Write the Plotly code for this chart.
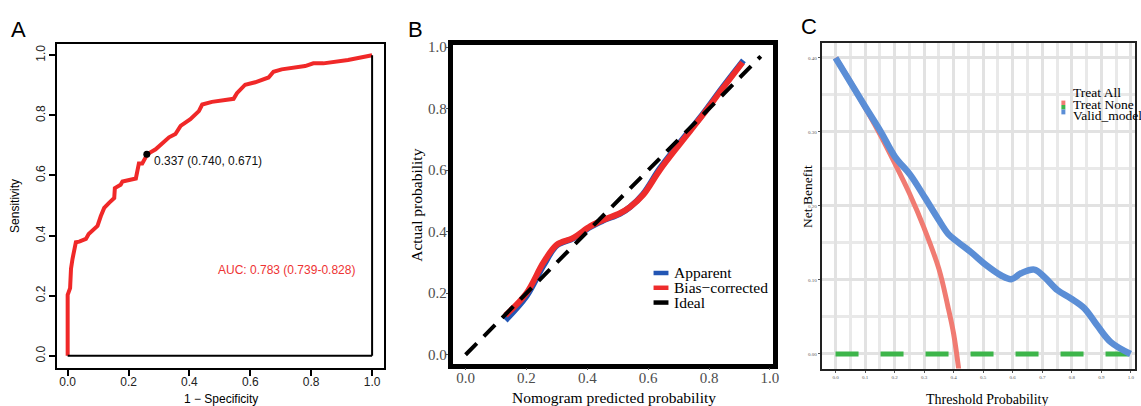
import plotly.graph_objects as go

W, H = 1141, 406

# ---------------- Panel A: ROC curve ----------------
roc_fpr = [0.0, 0.0, 0.008, 0.011, 0.016, 0.022, 0.027, 0.038, 0.06, 0.069, 0.087, 0.098,
           0.109, 0.12, 0.136, 0.153, 0.155, 0.174, 0.18, 0.224, 0.234, 0.245, 0.262, 0.289,
           0.333, 0.354, 0.371, 0.403, 0.431, 0.442, 0.474, 0.545, 0.556, 0.583, 0.616, 0.66,
           0.676, 0.703, 0.78, 0.807, 0.84, 0.921, 1.0]
roc_tpr = [0.0, 0.203, 0.225, 0.29, 0.323, 0.356, 0.378, 0.38, 0.389, 0.405, 0.421, 0.432,
           0.465, 0.492, 0.509, 0.525, 0.558, 0.569, 0.58, 0.59, 0.64, 0.64, 0.671, 0.687,
           0.727, 0.738, 0.765, 0.787, 0.814, 0.836, 0.845, 0.855, 0.874, 0.902, 0.91, 0.926,
           0.945, 0.953, 0.964, 0.973, 0.973, 0.984, 1.0]
best_threshold = 0.337
best_spec = 0.740
best_sens = 0.671
auc_label = "AUC: 0.783 (0.739-0.828)"

# ---------------- Panel B: calibration ----------------
cal_pred_bias = [0.131, 0.20, 0.256, 0.30, 0.354, 0.409, 0.452, 0.507, 0.54, 0.583, 0.638,
                 0.703, 0.78, 0.845, 0.91]
cal_obs_bias = [0.128, 0.20, 0.30, 0.358, 0.38, 0.417, 0.438, 0.46, 0.48, 0.519, 0.60,
                0.684, 0.78, 0.866, 0.95]
cal_pred_app = [0.131, 0.20, 0.256, 0.30, 0.354, 0.409, 0.452, 0.507, 0.54, 0.583, 0.638,
                0.703, 0.78, 0.845, 0.913]
cal_obs_app = [0.112, 0.19, 0.29, 0.355, 0.378, 0.415, 0.436, 0.458, 0.48, 0.522, 0.605,
               0.688, 0.783, 0.870, 0.957]
ideal_x = [0.0, 0.97]
ideal_y = [0.0, 0.97]

# ---------------- Panel C: decision curve ----------------
thr_all = [0.0, 0.05, 0.1, 0.15, 0.2, 0.25, 0.3, 0.35, 0.38, 0.4, 0.42]
nb_all = [0.400, 0.368, 0.333, 0.297, 0.258, 0.217, 0.170, 0.115, 0.065, 0.027, -0.03]
thr_model = [0.0, 0.099, 0.152, 0.202, 0.253, 0.303, 0.348, 0.382, 0.415, 0.46, 0.51, 0.561,
             0.595, 0.628, 0.673, 0.707, 0.752, 0.797, 0.842, 0.887, 0.932, 0.999]
nb_model = [0.400, 0.335, 0.301, 0.266, 0.242, 0.211, 0.182, 0.162, 0.151, 0.137, 0.120, 0.106,
            0.101, 0.109, 0.114, 0.104, 0.086, 0.075, 0.062, 0.038, 0.016, 0.0]
thr_none = [0.0, 1.0]
nb_none = [0.0, 0.0]
dca_legend = ["Treat All", "Treat None", "Valid_model"]
dca_colors = ["#F07B72", "#3DB54A", "#5B8ED6"]

SANS = "Liberation Sans"
SERIF = "Liberation Serif"


def px(x):
    return x / W


def py(y):
    return 1 - y / H


fig = go.Figure()

# Panel A traces
fig.add_trace(go.Scatter(x=roc_fpr, y=roc_tpr, mode="lines", xaxis="x", yaxis="y",
                         line=dict(color="#F02828", width=4), showlegend=False))
fig.add_trace(go.Scatter(x=[1 - best_spec], y=[best_sens], mode="markers", xaxis="x", yaxis="y",
                         marker=dict(color="black", size=7), showlegend=False))

# Panel B traces
fig.add_trace(go.Scatter(x=cal_pred_app, y=cal_obs_app, mode="lines", xaxis="x2", yaxis="y2",
                         line=dict(color="#2356B4", width=6, shape="spline"), showlegend=False))
fig.add_trace(go.Scatter(x=cal_pred_bias, y=cal_obs_bias, mode="lines", xaxis="x2", yaxis="y2",
                         line=dict(color="#EE2C2C", width=6, shape="spline"), showlegend=False))
fig.add_trace(go.Scatter(x=ideal_x, y=ideal_y, mode="lines", xaxis="x2", yaxis="y2",
                         line=dict(color="black", width=4, dash="16px,10px"), showlegend=False))

# Panel C traces
fig.add_trace(go.Scatter(x=thr_none, y=nb_none, mode="lines", xaxis="x3", yaxis="y3",
                         line=dict(color=dca_colors[1], width=5, dash="23px,22px"), showlegend=False))
fig.add_trace(go.Scatter(x=thr_all, y=nb_all, mode="lines", xaxis="x3", yaxis="y3",
                         line=dict(color=dca_colors[0], width=5, shape="spline"), showlegend=False))
fig.add_trace(go.Scatter(x=thr_model, y=nb_model, mode="lines", xaxis="x3", yaxis="y3",
                         line=dict(color=dca_colors[2], width=6.5, shape="spline"), showlegend=False))

ticks01 = [0, 0.2, 0.4, 0.6, 0.8, 1.0]

axA = dict(tickvals=ticks01, tickformat=".1f", ticks="outside",
           ticklen=6, tickwidth=1.5, tickcolor="black", showline=True, mirror=True,
           linecolor="black", linewidth=2, showgrid=False, zeroline=False,
           tickfont=dict(family=SANS, size=12, color="#222"))
axB = dict(tickvals=ticks01, tickformat=".1f", ticks="outside",
           ticklen=2, tickwidth=1.2, tickcolor="#555", showline=True, mirror=True,
           linecolor="black", linewidth=4.5, showgrid=False, zeroline=False,
           tickfont=dict(family=SERIF, size=15, color="#4d4d4d"))

fig.update_layout(
    width=W, height=H, margin=dict(l=0, r=0, t=0, b=0),
    paper_bgcolor="white", plot_bgcolor="white",
    xaxis=dict(domain=[px(57), px(386)], anchor="y", range=[-0.036, 1.039],
               ticklabelstandoff=-4, **axA),
    yaxis=dict(domain=[py(367), py(39)], anchor="x", range=[-0.039, 1.036],
               tickangle=-90, ticklabelstandoff=-1, **axA),
    xaxis2=dict(domain=[px(455), px(777)], anchor="y2", range=[-0.0425, 1.0098],
                ticklabelstandoff=-5, **axB),
    yaxis2=dict(domain=[py(363), py(40)], anchor="x2", range=[-0.0288, 1.0054],
                ticklabelstandoff=-4, **axB),
    xaxis3=dict(domain=[px(826), 1.0], anchor="y3", range=[-0.047, 1.014],
                tickvals=[0, 0.1, 0.2, 0.3, 0.4, 0.5, 0.6, 0.7, 0.8, 0.9, 1.0], tickformat=".1f",
                ticks="outside", ticklen=2, tickcolor="#555", showline=True, mirror=True,
                linecolor="#222", linewidth=2, showgrid=True, gridcolor="#e2e2e2", gridwidth=3,
                minor=dict(dtick=0.05, showgrid=True, gridcolor="#e9e9e9", gridwidth=2.5),
                zeroline=False, tickfont=dict(family=SERIF, size=5, color="#555")),
    yaxis3=dict(domain=[py(368), py(38)], anchor="x3", range=[-0.0197, 0.4195],
                tickvals=[0, 0.1, 0.2, 0.3, 0.4], tickformat=".2f",
                ticks="outside", ticklen=2, tickcolor="#555", showline=True, mirror=True,
                linecolor="#222", linewidth=2, showgrid=True, gridcolor="#e2e2e2", gridwidth=3,
                minor=dict(dtick=0.05, showgrid=True, gridcolor="#e9e9e9", gridwidth=2.5),
                zeroline=False, tickfont=dict(family=SERIF, size=5, color="#555")),
)

# inner L-shaped frame in panel A (ROC boundaries)
fig.add_shape(type="line", xref="x", yref="y", x0=0, y0=0, x1=1, y1=0,
              line=dict(color="black", width=2))
fig.add_shape(type="line", xref="x", yref="y", x0=1, y0=0, x1=1, y1=1,
              line=dict(color="black", width=2))

ann = []


def text(x, y, s, size, family, color="black", angle=0, xanchor="center"):
    ann.append(dict(x=px(x), y=py(y), xref="paper", yref="paper", text=s, showarrow=False,
                    font=dict(size=size, family=family, color=color), textangle=angle,
                    xanchor=xanchor, yanchor="middle"))


# panel letters
text(19, 24, "A", 22, SANS)
text(418, 24, "B", 22, SANS)
text(813, 21, "C", 22, SANS)

# Panel A titles and labels
text(15, 203, "Sensitivity", 12, SANS, angle=-90)
text(222, 399, "1 − Specificity", 12, SANS)
ann.append(dict(x=1 - best_spec, y=best_sens, xref="x", yref="y",
                text=f"{best_threshold:.3f} ({best_spec:.3f}, {best_sens:.3f})",
                showarrow=False, xanchor="left", yanchor="middle", xshift=5, yshift=-7,
                font=dict(size=12, family=SANS, color="#111")))
ann.append(dict(x=0.72, y=0.285, xref="x", yref="y", text=auc_label, showarrow=False,
                xanchor="center", yanchor="middle",
                font=dict(size=12, family=SANS, color="#EE3333")))

# Panel B titles and legend
text(418, 202, "Actual probability", 15.5, SERIF, angle=-90)
text(617, 397, "Nomogram predicted probability", 15.5, SERIF)
leg_b = [("Apparent", "#2356B4"), ("Bias−corrected", "#EE2C2C"), ("Ideal", "black")]
for i, (lab, col) in enumerate(leg_b):
    yy = 271 + i * 15
    fig.add_shape(type="line", xref="paper", yref="paper", x0=px(657), x1=px(672),
                  y0=py(yy), y1=py(yy), line=dict(color=col, width=4.5))
    text(676, yy, lab, 15.5, SERIF, xanchor="left")

# Panel C titles and legend
text(811, 193, "Net Benefit", 13.5, SERIF, angle=-90)
text(993, 399, "Threshold Probability", 14, SERIF)
for i, lab in enumerate(dca_legend):
    text(1077, 88 + i * 11.5, lab, 13.5, SERIF, xanchor="left")
key_y = [(96, 100.5), (100.5, 105), (105, 110)]
for (y0, y1), col in zip(key_y, dca_colors):
    fig.add_shape(type="rect", xref="paper", yref="paper", x0=px(1067), x1=px(1071),
                  y0=py(y1), y1=py(y0), line=dict(width=0), fillcolor=col)

fig.update_layout(annotations=ann)
fig.write_html("out.html")
